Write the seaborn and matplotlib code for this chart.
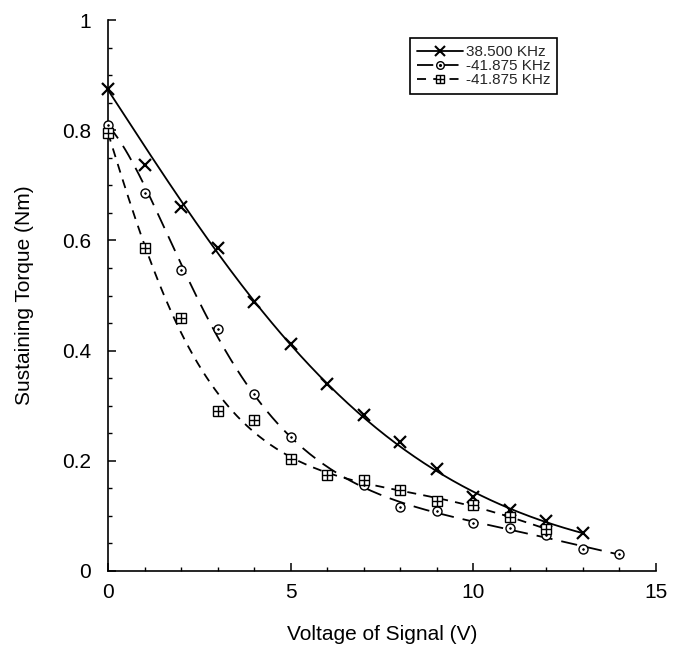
import numpy as np
import matplotlib
matplotlib.use("Agg")
import matplotlib.pyplot as plt
import seaborn as sns
from matplotlib.lines import Line2D
from matplotlib.ticker import MultipleLocator, FixedLocator, FixedFormatter

# ---- data ----
volts_a = [0, 1, 2, 3, 4, 5, 6, 7, 8, 9, 10, 11, 12, 13]
torque_a = [0.875, 0.737, 0.661, 0.586, 0.488, 0.412, 0.339, 0.283, 0.234, 0.185, 0.134, 0.111, 0.091, 0.069]

volts_b = [0, 1, 2, 3, 4, 5, 7, 8, 9, 10, 11, 12, 13, 14]
torque_b = [0.809, 0.686, 0.546, 0.439, 0.321, 0.243, 0.156, 0.116, 0.109, 0.087, 0.078, 0.065, 0.040, 0.031]

volts_c = [0, 1, 2, 3, 4, 5, 6, 7, 8, 9, 10, 11, 12]
torque_c = [0.795, 0.586, 0.459, 0.290, 0.274, 0.203, 0.174, 0.165, 0.147, 0.127, 0.120, 0.098, 0.076]

series_labels = ["38.500 KHz", "-41.875 KHz", "-41.875 KHz"]
x_ticks = [0, 5, 10, 15]
x_tick_labels = ["0", "5", "10", "15"]
y_ticks = [0, 0.2, 0.4, 0.6, 0.8, 1.0]
y_tick_labels = ["0", "0.2", "0.4", "0.6", "0.8", "1"]
x_label = "Voltage of Signal (V)"
y_label = "Sustaining Torque (Nm)"

# ---- style ----
sns.set_theme(style="ticks")
plt.rcParams["font.family"] = ["Liberation Sans", "DejaVu Sans"]

fig = plt.figure(figsize=(6.78, 6.53), dpi=100)
ax = fig.add_axes([108 / 678, 1 - 571 / 653, 548 / 678, 551 / 653])


def smooth_fit(xs, ys, deg, w0=4.0):
    xs = np.asarray(xs, float)
    ys = np.asarray(ys, float)
    w = np.ones_like(xs)
    w[0] = w0
    coef = np.polyfit(xs, np.log(ys), deg, w=w)
    grid = np.linspace(xs.min(), xs.max(), 300)
    return grid, np.exp(np.polyval(coef, grid))


dash_b = (0, (9, 5))
dash_c = (0, (5, 4))
lw = 1.3

ga, fa = smooth_fit(volts_a, torque_a, 3)
gb, fb = smooth_fit(volts_b, torque_b, 5)
gc, fc = smooth_fit(volts_c, torque_c, 5)

sns.lineplot(x=ga, y=fa, ax=ax, color="black", linewidth=lw, sort=False)
sns.lineplot(x=gb, y=fb, ax=ax, color="black", linewidth=lw, linestyle=dash_b, sort=False)
sns.lineplot(x=gc, y=fc, ax=ax, color="black", linewidth=lw, linestyle=dash_c, sort=False)

# markers
sns.lineplot(x=volts_a, y=torque_a, ax=ax, color="black", linestyle="none", marker="x",
             markersize=8.5, markeredgewidth=1.6, markeredgecolor="black", clip_on=False, zorder=4)
sns.lineplot(x=volts_b, y=torque_b, ax=ax, color="black", linestyle="none", marker="o",
             markersize=6.5, markeredgewidth=1.0, markeredgecolor="black", markerfacecolor="white",
             clip_on=False, zorder=4)
sns.lineplot(x=volts_b, y=torque_b, ax=ax, color="black", linestyle="none", marker=".",
             markersize=2.5, markeredgewidth=0.5, markeredgecolor="black", clip_on=False, zorder=5)
sns.lineplot(x=volts_c, y=torque_c, ax=ax, color="black", linestyle="none", marker="s",
             markersize=6.5, markeredgewidth=1.0, markeredgecolor="black", markerfacecolor="white",
             clip_on=False, zorder=4)
sns.lineplot(x=volts_c, y=torque_c, ax=ax, color="black", linestyle="none", marker="+",
             markersize=6.5, markeredgewidth=1.0, markeredgecolor="black", clip_on=False, zorder=5)

ax.set_xlim(0, 15)
ax.set_ylim(0, 1)
ax.xaxis.set_major_locator(FixedLocator(x_ticks))
ax.xaxis.set_major_formatter(FixedFormatter(x_tick_labels))
ax.yaxis.set_major_locator(FixedLocator(y_ticks))
ax.yaxis.set_major_formatter(FixedFormatter(y_tick_labels))
ax.xaxis.set_minor_locator(MultipleLocator(1))
ax.yaxis.set_minor_locator(MultipleLocator(0.05))

sns.despine(ax=ax)
for side in ("left", "bottom"):
    ax.spines[side].set_color("black")
    ax.spines[side].set_linewidth(1.2)

ax.tick_params(which="major", direction="in", length=6, width=1.1, color="black",
               labelsize=15, labelcolor="black")
ax.tick_params(which="minor", direction="in", length=3, width=1.0, color="black")
ax.tick_params(axis="y", which="major", pad=12)
ax.tick_params(axis="x", which="major", pad=9)

ax.set_xlabel(x_label, fontsize=15, color="black", labelpad=16)
ax.set_ylabel(y_label, fontsize=15, color="black", labelpad=20)

# legend
h1 = Line2D([], [], color="black", linewidth=lw, marker="x", markersize=7, markeredgewidth=1.5)
h2 = (Line2D([], [], color="black", linewidth=lw, linestyle=dash_b, marker="o", markersize=5.5,
             markerfacecolor="white", markeredgecolor="black"),
      Line2D([], [], color="black", linestyle="none", marker=".", markersize=2.5))
h3 = (Line2D([], [], color="black", linewidth=lw, linestyle=dash_c, marker="s", markersize=6,
             markerfacecolor="white", markeredgecolor="black"),
      Line2D([], [], color="black", linestyle="none", marker="+", markersize=6))
leg = ax.legend([h1, h2, h3], series_labels, loc="upper left", bbox_to_anchor=(0.551, 0.967),
                borderaxespad=0, frameon=True, fancybox=False, edgecolor="black",
                fontsize=11, handlelength=3.0, handletextpad=0.2, labelspacing=0.0,
                borderpad=0.45)
leg.get_frame().set_linewidth(1.2)
leg.get_frame().set_facecolor("white")
leg.get_frame().set_alpha(1)

fig.savefig("out.png", dpi=100)
